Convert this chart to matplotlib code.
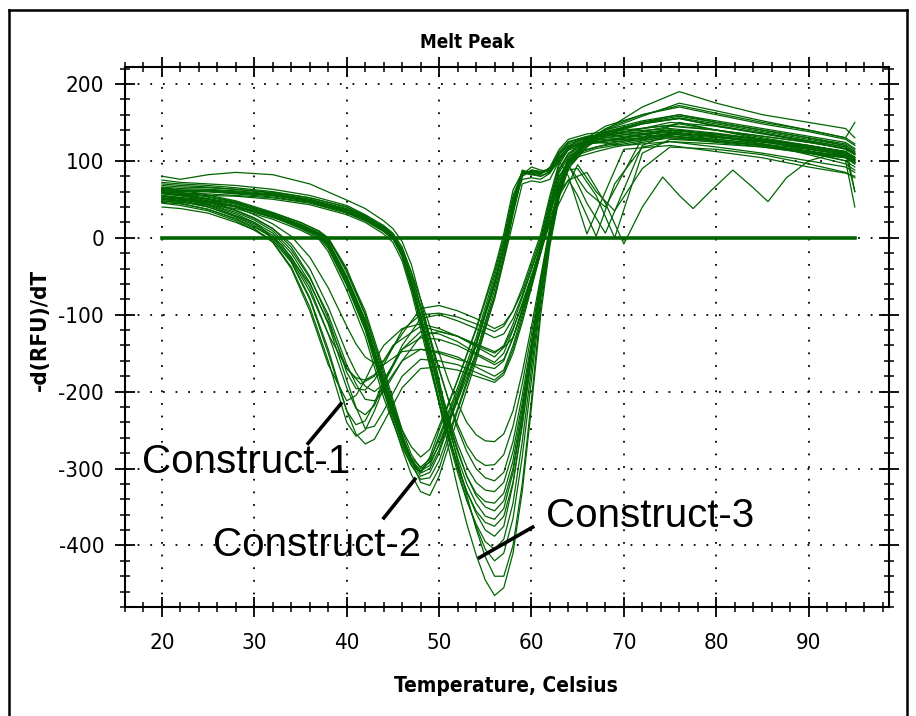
import matplotlib
matplotlib.use("Agg")
import matplotlib.pyplot as plt
from matplotlib.lines import Line2D
from matplotlib.ticker import MultipleLocator

# ---------------- data ----------------
TITLE = "Melt Peak"
XLABEL = "Temperature, Celsius"
YLABEL = "-d(RFU)/dT"
LABELS = ["Construct-1", "Construct-2", "Construct-3"]

# Construct-1 curves
T1 = [20, 22, 25, 28, 30, 32, 34, 36, 38, 40, 41, 42, 43, 44, 46, 48, 50, 52, 54, 56,
      57, 58, 59, 60, 61, 62, 63, 64, 65, 67, 69, 72, 75, 80, 85, 90, 94, 95]
C1 = [
    [50, 48, 40, 28, 18, 3, -25, -65, -125, -195, -222, -230, -218, -190, -145, -122, -125, -135, -150, -162,
     -150, -120, -85, -50, -10, 40, 85, 105, 112, 118, 122, 128, 135, 130, 125, 115, 108, 100],
    [45, 42, 35, 22, 10, -5, -38, -90, -160, -240, -258, -250, -225, -195, -160, -145, -148, -155, -168, -180,
     -172, -140, -100, -60, -15, 35, 80, 100, 108, 116, 120, 126, 132, 128, 122, 112, 105, 98],
    [55, 52, 46, 35, 25, 12, -8, -40, -90, -150, -175, -193, -200, -190, -140, -105, -100, -108, -118, -130,
     -125, -105, -75, -40, -5, 45, 90, 110, 118, 124, 128, 135, 140, 135, 128, 120, 112, 104],
    [40, 38, 32, 20, 10, -3, -32, -80, -150, -225, -255, -268, -262, -240, -195, -170, -168, -172, -180, -188,
     -178, -150, -110, -65, -20, 30, 75, 95, 105, 112, 118, 124, 130, 126, 120, 110, 100, 40],
    [60, 58, 50, 40, 30, 18, 2, -25, -65, -115, -138, -155, -163, -160, -125, -92, -88, -95, -105, -118,
     -112, -95, -70, -35, 0, 50, 95, 115, 122, 128, 132, 138, 145, 140, 132, 124, 116, 108],
    [50, 47, 40, 27, 16, 0, -30, -78, -145, -225, -243, -238, -215, -185, -145, -130, -132, -140, -152, -165,
     -158, -130, -95, -55, -15, 25, 60, 75, 55, 2, 70, 118, 125, 122, 118, 110, 104, 96],
    [48, 45, 37, 24, 12, -6, -40, -95, -165, -212, -205, -185, -160, -140, -118, -112, -118, -128, -140, -150,
     -140, -112, -78, -42, -5, 42, 88, 108, 118, 124, 128, 134, 140, 134, 128, 118, 110, 102],
    [52, 50, 43, 31, 20, 6, -20, -58, -112, -185, -220, -248, -245, -225, -180, -158, -160, -165, -175, -185,
     -175, -145, -105, -62, -18, 30, 70, 88, 90, 55, 0, 110, 128, 125, 120, 112, 106, 98],
    [58, 55, 48, 36, 26, 12, -12, -50, -105, -175, -196, -198, -185, -165, -120, -100, -98, -103, -112, -122,
     -115, -95, -65, -30, 5, 55, 98, 118, 126, 132, 136, 142, 150, 145, 136, 126, 118, 110],
    [46, 44, 37, 25, 14, 0, -28, -70, -125, -170, -182, -185, -178, -165, -148, -145, -150, -158, -165, -170,
     -160, -130, -92, -52, -12, 35, 78, 98, 110, 118, 124, 130, 136, 132, 126, 116, 108, 100],
    [54, 51, 44, 33, 23, 9, -16, -52, -100, -165, -190, -210, -212, -200, -160, -128, -122, -128, -138, -148,
     -142, -118, -88, -50, -14, 20, 45, 70, 95, 60, 35, 90, 118, 115, 108, 96, 85, 78],
]

# Construct-2 curves (the dense band)
T2 = [20, 24, 28, 32, 35, 37, 38, 40, 42, 44, 46, 47, 48, 49, 50, 52, 54, 56, 57, 58,
      59, 60, 61, 62, 63, 64, 66, 70, 75, 80, 85, 90, 94, 95]
C2 = [
    [55, 50, 42, 28, 14, 3, -10, -58, -115, -195, -265, -292, -305, -290, -258, -195, -130, -50, -5, 50,
     86, 86, 84, 88, 105, 118, 126, 130, 135, 128, 122, 115, 108, 100],
    [60, 55, 46, 32, 20, 8, -2, -42, -95, -170, -250, -282, -300, -292, -270, -212, -150, -75, -25, 35,
     80, 88, 86, 90, 112, 125, 132, 138, 142, 136, 128, 120, 112, 105],
    [50, 47, 40, 26, 16, 6, 0, -40, -100, -175, -255, -290, -318, -322, -300, -225, -155, -80, -30, 20,
     70, 74, 72, 76, 100, 114, 122, 126, 130, 124, 118, 110, 104, 96],
    [58, 52, 44, 30, 17, 5, -6, -52, -108, -185, -250, -272, -285, -275, -245, -185, -120, -45, 0, 55,
     84, 82, 80, 86, 108, 122, 130, 134, 138, 132, 125, 118, 110, 102],
    [52, 48, 41, 27, 12, 0, -14, -62, -120, -200, -275, -308, -330, -335, -310, -235, -160, -78, -28, 30,
     82, 92, 88, 86, 104, 116, 124, 128, 133, 126, 120, 112, 106, 98],
    [65, 58, 48, 33, 20, 9, 0, -45, -100, -180, -258, -288, -303, -296, -268, -205, -140, -60, -12, 45,
     88, 84, 82, 92, 115, 128, 135, 140, 146, 140, 132, 124, 116, 110],
    [48, 44, 38, 24, 10, -2, -18, -68, -128, -208, -272, -296, -304, -285, -250, -185, -118, -40, 5, 62,
     85, 83, 80, 85, 100, 80, 5, 115, 120, 112, 104, 92, 84, 80],
    [57, 52, 44, 29, 15, 4, -8, -55, -112, -192, -262, -290, -310, -305, -280, -210, -140, -62, -15, 42,
     83, 87, 85, 88, 108, 120, 128, 132, 137, 131, 124, 117, 110, 60],
    [62, 56, 47, 31, 18, 6, -4, -50, -106, -186, -258, -286, -298, -288, -262, -200, -136, -56, -10, 48,
     85, 85, 83, 90, 110, 124, 131, 136, 140, 134, 127, 119, 112, 104],
    [54, 49, 41, 27, 13, 2, -12, -60, -118, -198, -268, -296, -314, -312, -290, -222, -150, -68, -20, 38,
     80, 88, 86, 86, 102, 116, 124, 128, 132, 126, 120, 113, 106, 98],
    [59, 53, 45, 30, 16, 4, -7, -54, -110, -190, -260, -288, -306, -300, -276, -206, -138, -58, -12, 44,
     76, 78, 76, 84, 104, 118, 126, 120, 125, 118, 110, 100, 92, 85],
]

# Construct-3 curves
T3 = [20, 22, 25, 28, 32, 36, 40, 42, 44, 45, 46, 47, 48, 49, 50, 51, 52, 53, 54, 55,
      56, 57, 58, 59, 60, 61, 62, 63, 64, 66, 68, 72, 76, 80, 85, 90, 94, 95]
C3 = [
    [62, 60, 60, 58, 55, 48, 35, 25, 10, 0, -25, -65, -110, -160, -210, -255, -295, -330, -358, -380,
     -388, -375, -320, -240, -150, -60, 10, 65, 100, 125, 138, 150, 155, 145, 135, 125, 115, 108],
    [70, 68, 66, 63, 58, 50, 38, 28, 14, 4, -15, -45, -80, -115, -150, -185, -215, -240, -256, -264,
     -265, -255, -225, -175, -115, -50, 15, 70, 105, 130, 145, 160, 170, 160, 148, 138, 128, 120],
    [65, 62, 62, 60, 56, 49, 36, 26, 12, 2, -20, -55, -92, -132, -172, -210, -243, -270, -288, -296,
     -295, -282, -245, -190, -125, -55, 12, 68, 102, 128, 140, 152, 160, 150, 140, 130, 120, 112],
    [60, 58, 57, 55, 52, 45, 32, 22, 8, -2, -22, -60, -100, -145, -190, -232, -268, -298, -318, -328,
     -330, -318, -278, -215, -140, -62, 8, 62, 95, 45, 6, 120, 140, 132, 122, 108, 96, 88],
    [75, 72, 70, 68, 63, 55, 42, 30, 16, 6, -12, -45, -90, -140, -190, -235, -275, -310, -335, -350,
     -355, -342, -300, -230, -150, -65, 5, 62, 98, 125, 140, 158, 175, 165, 152, 140, 130, 122],
    [58, 56, 55, 54, 50, 43, 30, 20, 5, -6, -30, -70, -118, -168, -215, -258, -298, -330, -355, -370,
     -375, -362, -318, -245, -158, -68, 2, 58, 95, 120, 132, 142, 148, 140, 130, 120, 112, 104],
    [66, 64, 63, 61, 57, 50, 37, 27, 12, 2, -22, -62, -110, -162, -215, -262, -305, -342, -372, -395,
     -405, -392, -345, -265, -170, -75, 0, 60, 98, 124, 137, 150, 158, 150, 140, 130, 122, 114],
    [80, 76, 82, 85, 82, 70, 49, 38, 22, 12, -5, -35, -80, -130, -185, -240, -290, -335, -378, -415,
     -440, -440, -400, -320, -210, -90, -5, 55, 92, 118, 140, 170, 190, 175, 160, 150, 142, 130],
    [62, 60, 60, 58, 55, 48, 34, 24, 10, 0, -20, -58, -105, -160, -215, -272, -325, -372, -412, -445,
     -465, -455, -410, -330, -220, -100, -10, 52, 90, 118, 134, 148, 155, 146, 136, 126, 118, 110],
    [68, 66, 65, 63, 59, 52, 40, 29, 14, 4, -18, -55, -100, -150, -202, -252, -300, -340, -375, -405,
     -420, -410, -365, -285, -185, -80, -2, 60, 96, 122, 136, 150, 160, 152, 142, 132, 124, 116],
    [64, 62, 61, 59, 55, 47, 34, 24, 10, 0, -24, -62, -105, -150, -195, -240, -278, -310, -332, -343,
     -345, -332, -290, -222, -145, -62, 6, 62, 98, 124, 136, 148, 156, 148, 138, 128, 120, 60],
    [72, 70, 68, 65, 60, 52, 40, 28, 14, 4, -16, -50, -88, -128, -170, -210, -248, -278, -300, -312,
     -316, -305, -265, -205, -135, -58, 10, 66, 100, 126, 142, 160, 172, 162, 150, 140, 130, 150],
    [63, 61, 60, 57, 53, 46, 33, 23, 9, -1, -23, -60, -104, -152, -200, -246, -286, -320, -345, -362,
     -366, -352, -305, -232, -150, -64, 4, 60, 94, 60, 40, 130, 150, 140, 128, 112, 100, 92],
]

# one wavy outlier curve
TW = [20, 25, 30, 33, 36, 38, 40, 41.5, 43, 45, 48, 52, 56, 58, 60, 61, 62, 63, 64, 66,
      68, 70, 72, 74.2, 76, 77.5, 79.5, 81.8, 84, 85.6, 87.6, 90, 93, 95]
YW = [52, 42, 20, -10, -60, -110, -170, -190, -180, -140, -115, -128, -155, -130, -60, -20, 20, 55, 75, 85,
      45, -8, 40, 79, 55, 38, 62, 88, 65, 47, 78, 100, 110, 102]

# zero baseline trace
TB = [20, 95]
YB = [0, 0]

# annotation anchors (text position, pointer line start, pointer line end)
ANN_TEXT = [(17.8, -291), (25.5, -399), (61.6, -362)]
ANN_LINE = [((35.7, -269), (39.5, -214)),
            ((43.9, -366), (47.5, -312)),
            ((54.2, -417), (60.3, -375))]

# ---------------- drawing ----------------
plt.rcParams["font.family"] = ["DejaVu Sans"]
plt.rcParams["font.stretch"] = "condensed"
plt.rcParams["axes.unicode_minus"] = False

W, H = 916, 716
fig = plt.figure(figsize=(W / 100, H / 100), dpi=100)
ax = fig.add_axes([125 / W, 1 - 607 / H, (889 - 125) / W, (607 - 67) / H])

GREEN = "#006400"
for grp_t, grp in ((T1, C1), (T3, C3), (T2, C2)):
    for ys in grp:
        ax.plot(grp_t, ys, color=GREEN, lw=0.9, zorder=3)
ax.plot(TW, YW, color=GREEN, lw=0.9, zorder=3)
ax.plot(TB, YB, color=GREEN, lw=2.6, zorder=4)

ax.set_xlim(16, 98.7)
ax.set_ylim(-480, 222)
ax.xaxis.set_major_locator(MultipleLocator(10))
ax.xaxis.set_minor_locator(MultipleLocator(2))
ax.yaxis.set_major_locator(MultipleLocator(100))
ax.yaxis.set_minor_locator(MultipleLocator(20))
ax.tick_params(which="both", direction="inout", top=True, right=True,
               labeltop=False, labelright=False, colors="black")
ax.tick_params(which="major", length=14, width=1.3, labelsize=16, pad=8)
ax.tick_params(axis="x", which="major", pad=12)
ax.tick_params(which="minor", length=7, width=1.1)
for s in ax.spines.values():
    s.set_linewidth(1.5)
ax.grid(True, which="major", color="black", linestyle=(0, (1, 6)), lw=1.3, zorder=1)
ax.set_axisbelow(True)

fig.text(467 / W, 1 - 42 / H, TITLE, ha="center", va="center",
         fontsize=13.5, fontweight="bold", fontstretch="condensed")
fig.text(506 / W, 1 - 686 / H, XLABEL, ha="center", va="center",
         fontsize=15, fontweight="bold", fontstretch="condensed")
fig.text(40 / W, 1 - 330 / H, YLABEL, ha="center", va="center",
         rotation=90, fontsize=16, fontweight="bold", fontstretch="condensed")

for lab, (tx, ty), (p0, p1) in zip(LABELS, ANN_TEXT, ANN_LINE):
    ax.text(tx, ty, lab, ha="left", va="center", fontsize=29,
            family=["Liberation Sans", "DejaVu Sans"], fontstretch="normal", zorder=6)
    ax.plot([p0[0], p1[0]], [p0[1], p1[1]], color="black", lw=2.6,
            solid_capstyle="butt", zorder=6)

# outer frame of the exported image
for (x0, y0, x1, y1) in ((9, 10, 907, 10), (9, 10, 9, 716), (907, 10, 907, 716)):
    fig.add_artist(Line2D([x0 / W, x1 / W], [1 - y0 / H, 1 - y1 / H],
                          transform=fig.transFigure, color="black", lw=1.8))

fig.savefig("out.png", dpi=100, facecolor="white")
